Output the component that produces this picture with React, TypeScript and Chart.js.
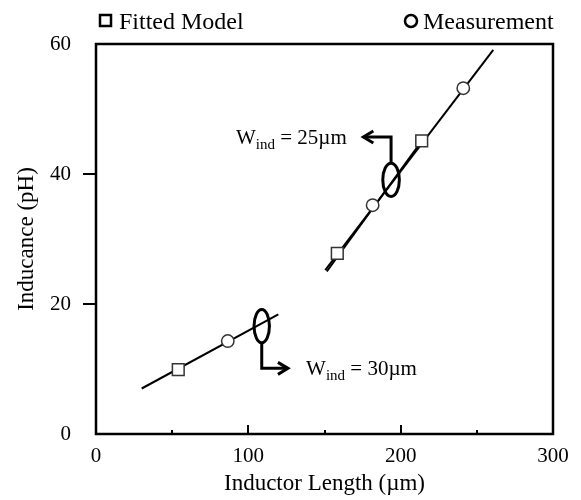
import React, { useEffect, useRef } from 'react';
import { Chart, registerables } from 'chart.js';

Chart.register(...registerables);

const FONT = "'Liberation Serif', 'Times New Roman', Times, serif";

// ---- data ----
const modelX = [54, 158.4, 213.8];
const modelY = [9.9, 27.8, 45.1];
const measX = [86.5, 181.6, 241.1];
const measY = [14.3, 35.2, 53.2];
const fit30X = [30, 119.7];
const fit30Y = [7.0, 18.4];
const fit25X = [150.5, 260.8];
const fit25Y = [25.2, 59.1];
const meas25X = [151.5, 214.5];
const meas25Y = [25.0, 45.3];

const xMinorTicks = [50, 150, 250];
const xMajorTicks = [100, 200];
const yTickMarks = [20, 40];
const seriesLabels = ['Fitted Model', 'Measurement'];
const xTitle = 'Inductor Length (\u00B5m)';
const yTitle = 'Inducance (pH)';

// annotation anchors, in data units
const ellipse30 = { x: 108.8, y: 16.6 };
const ellipse25 = { x: 193.7, y: 39.1 };
const arrow30 = { y: 10.1, toX: 126 };
const arrow25 = { y: 45.7, toX: 175.5 };
const label30 = { x: 137.9, y: 9.1, sub: 'ind', text: ' = 30\u00B5m' };
const label25 = { x: 91.9, y: 44.6, sub: 'ind', text: ' = 25\u00B5m' };

const pts = (xs: number[], ys: number[]) => xs.map((x, i) => ({ x, y: ys[i] }));

const overlay = {
  id: 'overlay',
  afterDraw(chart: any) {
    const { ctx, chartArea: a } = chart;
    const xs = chart.scales.x;
    const ys = chart.scales.y;
    ctx.save();
    ctx.strokeStyle = '#000';
    ctx.fillStyle = '#000';
    ctx.lineCap = 'butt';

    // tick marks
    ctx.lineWidth = 2;
    ctx.beginPath();
    xMinorTicks.forEach((v) => {
      const px = Math.round(xs.getPixelForValue(v));
      ctx.moveTo(px, a.bottom);
      ctx.lineTo(px, a.bottom - 4);
    });
    xMajorTicks.forEach((v) => {
      const px = Math.round(xs.getPixelForValue(v));
      ctx.moveTo(px, a.bottom);
      ctx.lineTo(px, a.bottom - 9);
    });
    yTickMarks.forEach((v) => {
      const py = Math.round(ys.getPixelForValue(v));
      ctx.moveTo(a.left, py);
      ctx.lineTo(a.left - 13, py);
    });
    ctx.stroke();

    // frame
    ctx.lineWidth = 2.5;
    ctx.strokeRect(a.left, a.top, a.right - a.left, a.bottom - a.top);

    // ellipses and arrows
    ctx.lineWidth = 3;
    const drawGroup = (e: any, ar: any, up: boolean) => {
      const cx = xs.getPixelForValue(e.x);
      const cy = ys.getPixelForValue(e.y);
      const rx = up ? 8.3 : 7.7;
      const ry = 16.7;
      ctx.beginPath();
      ctx.ellipse(cx, cy, rx, ry, 0, 0, Math.PI * 2);
      ctx.stroke();
      const by = ys.getPixelForValue(ar.y);
      const ex = xs.getPixelForValue(ar.toX);
      ctx.beginPath();
      ctx.moveTo(cx, up ? cy - ry : cy + ry);
      ctx.lineTo(cx, by);
      ctx.lineTo(ex, by);
      ctx.stroke();
      const dir = ex > cx ? 1 : -1;
      ctx.beginPath();
      ctx.moveTo(ex - dir * 10, by - 6);
      ctx.lineTo(ex, by);
      ctx.lineTo(ex - dir * 10, by + 6);
      ctx.stroke();
    };
    drawGroup(ellipse30, arrow30, false);
    drawGroup(ellipse25, arrow25, true);

    // labels
    const drawLabel = (l: any) => {
      let x = xs.getPixelForValue(l.x);
      const y = ys.getPixelForValue(l.y);
      ctx.textBaseline = 'alphabetic';
      ctx.textAlign = 'left';
      ctx.font = `21px ${FONT}`;
      ctx.fillText('W', x, y);
      x += ctx.measureText('W').width;
      ctx.font = `15px ${FONT}`;
      ctx.fillText(l.sub, x, y + 5);
      x += ctx.measureText(l.sub).width;
      ctx.font = `21px ${FONT}`;
      ctx.fillText(l.text, x, y);
    };
    drawLabel(label30);
    drawLabel(label25);

    // legend
    ctx.lineWidth = 2.5;
    ctx.strokeRect(100, 15, 11, 11);
    ctx.beginPath();
    ctx.arc(411, 21, 6, 0, Math.PI * 2);
    ctx.stroke();
    ctx.font = `24px ${FONT}`;
    ctx.textBaseline = 'alphabetic';
    ctx.fillText(seriesLabels[0], 119, 29);
    ctx.fillText(seriesLabels[1], 423, 29);
    ctx.restore();
  },
};

export default function App() {
  const ref = useRef<HTMLCanvasElement>(null);
  useEffect(() => {
    if (!ref.current) return;
    const lineStyle = {
      showLine: true,
      borderColor: '#000',
      borderWidth: 2,
      pointRadius: 0,
      order: 2,
    };
    const chart = new Chart(ref.current, {
      type: 'scatter',
      data: {
        datasets: [
          { label: 'fit30', data: pts(fit30X, fit30Y), ...lineStyle },
          { label: 'fit25', data: pts(fit25X, fit25Y), ...lineStyle },
          { label: 'meas25', data: pts(meas25X, meas25Y), ...lineStyle },
          {
            label: seriesLabels[0],
            data: pts(modelX, modelY),
            pointStyle: 'rect',
            pointRadius: 8.3,
            backgroundColor: '#fff',
            borderColor: '#333',
            borderWidth: 1.5,
            order: 0,
          },
          {
            label: seriesLabels[1],
            data: pts(measX, measY),
            pointStyle: 'circle',
            pointRadius: 6.2,
            backgroundColor: '#fff',
            borderColor: '#333',
            borderWidth: 1.5,
            order: 0,
          },
        ],
      },
      options: {
        responsive: false,
        animation: false,
        layout: { padding: { left: 0, top: 44, right: 28, bottom: 0 } },
        plugins: { legend: { display: false }, tooltip: { enabled: false } },
        scales: {
          x: {
            type: 'linear',
            min: 0,
            max: 300,
            grid: { display: false, drawTicks: false },
            border: { display: false },
            ticks: {
              stepSize: 100,
              color: '#000',
              font: { family: FONT, size: 21 },
              padding: 10,
              maxRotation: 0,
            },
            title: {
              display: true,
              text: xTitle,
              color: '#000',
              font: { family: FONT, size: 23 },
              padding: { top: 0, bottom: 2 },
            },
            afterFit: (s: any) => {
              s.height = 66;
            },
          },
          y: {
            type: 'linear',
            min: 0,
            max: 60,
            grid: { display: false, drawTicks: false },
            border: { display: false },
            ticks: {
              stepSize: 20,
              color: '#000',
              font: { family: FONT, size: 21 },
              padding: 25,
            },
            title: {
              display: true,
              text: yTitle,
              color: '#000',
              font: { family: FONT, size: 23 },
              padding: { top: 13, bottom: 0 },
            },
            afterFit: (s: any) => {
              s.width = 96;
            },
          },
        },
      },
      plugins: [overlay],
    });
    return () => chart.destroy();
  }, []);
  return (
    <div style={{ position: 'absolute', left: 0, top: 0, width: 581, height: 500, background: '#fff' }}>
      <canvas ref={ref} width={581} height={500} />
    </div>
  );
}
